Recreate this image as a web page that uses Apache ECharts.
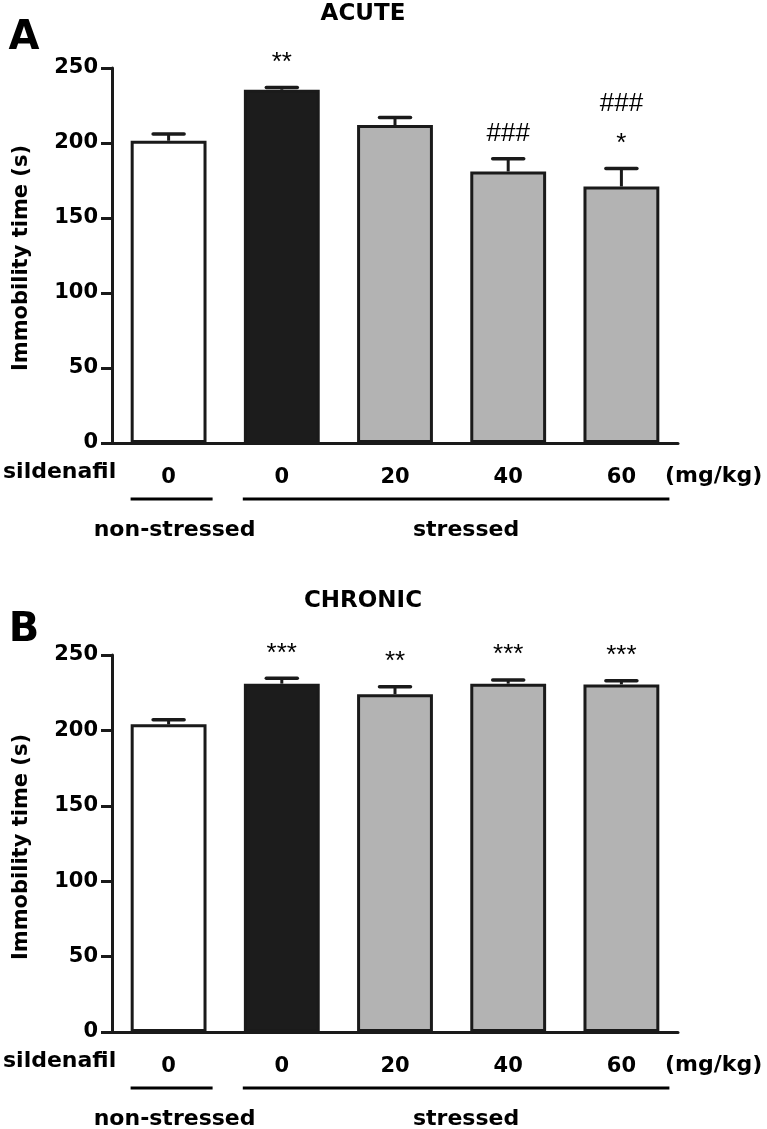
<!DOCTYPE html>
<html>
<head>
<meta charset="utf-8">
<script src="https://cdn.jsdelivr.net/npm/echarts@6/dist/echarts.min.js"></script>
<style>
  html, body { margin: 0; padding: 0; background: #fff; }
  #chart { width: 767px; height: 1129px; }
</style>
</head>
<body>
<div id="chart"></div>
<script>
// ---------------- data ----------------
const categories = ['0', '0', '20', '40', '60'];
const yTicks = [0, 50, 100, 150, 200, 250];

const acuteMean = [201.5, 235.5, 212, 181, 171];
const acuteSem = [4.5, 1.5, 5, 8.5, 12];
const acuteMarks = [[], ['**'], [], ['###'], ['*', '###']];     // listed bottom to top

const chronicMean = [204, 231, 224, 231, 230.5];
const chronicSem = [3, 3.5, 5, 2.5, 2.5];
const chronicMarks = [[], ['***'], ['**'], ['***'], ['***']];

const panelTitles = ['ACUTE', 'CHRONIC'];
const panelLetters = ['A', 'B'];
const groupNames = ['non-stressed', 'stressed'];
const doseLabel = 'sildenafil';
const doseUnit = '(mg/kg)';
const yAxisTitle = 'Immobility time (s)';

// ---------------- style ----------------
const INK = '#1a1a1a';
const barFills = ['#ffffff', '#1c1c1c', '#b3b3b3', '#b3b3b3', '#b3b3b3'];
const BOLD = 'DejaVu Sans';
const MARKFONT = 'Liberation Sans';

const chart = echarts.init(document.getElementById('chart'), null, { renderer: 'canvas' });

const grids = [
  { left: 112, top: 68, width: 566, height: 375 },
  { left: 112, top: 655, width: 566, height: 377 }
];

function xAxisFor(gi) {
  return {
    type: 'category', gridIndex: gi, data: categories,
    axisLine: { lineStyle: { color: INK, width: 3 } },
    axisTick: { alignWithLabel: true, length: 12, lineStyle: { color: INK, width: 3 } },
    axisLabel: { color: '#000', fontFamily: BOLD, fontWeight: 'bold', fontSize: 21, margin: 24 },
    splitLine: { show: false }
  };
}
function yAxisFor(gi) {
  return {
    type: 'value', gridIndex: gi, min: yTicks[0], max: yTicks[yTicks.length - 1], interval: 50,
    axisLine: { show: true, lineStyle: { color: INK, width: 3 } },
    axisTick: { show: true, length: 11, lineStyle: { color: INK, width: 3 } },
    axisLabel: { color: '#000', fontFamily: BOLD, fontWeight: 'bold', fontSize: 21, margin: 14 },
    splitLine: { show: false }
  };
}

function barSeries(gi, means) {
  return {
    type: 'bar', xAxisIndex: gi, yAxisIndex: gi, barWidth: '67%',
    data: means.map((v, i) => ({
      value: v,
      itemStyle: { color: barFills[i], borderColor: INK, borderWidth: 3 }
    })),
    z: 2, animation: false
  };
}

function errSeries(gi, means, sems, marks) {
  return {
    type: 'custom', xAxisIndex: gi, yAxisIndex: gi, z: 3, animation: false,
    data: means.map((m, i) => [i, m, sems[i]]),
    renderItem: function (params, api) {
      const i = api.value(0), m = api.value(1), e = api.value(2);
      const p0 = api.coord([i, m]);
      const p1 = api.coord([i, m + e]);
      const half = 15.5;
      const children = [
        { type: 'line', shape: { x1: p0[0], y1: p0[1], x2: p1[0], y2: p1[1] },
          style: { stroke: INK, lineWidth: 3 } },
        { type: 'line', shape: { x1: p1[0] - half, y1: p1[1], x2: p1[0] + half, y2: p1[1] },
          style: { stroke: INK, lineWidth: 3.5, lineCap: 'round' } }
      ];
      (marks[params.dataIndex] || []).forEach((t, k) => {
        children.push({
          type: 'text',
          style: {
            text: t, x: p1[0], y: p1[1] - 25 - k * 40,
            align: 'center', verticalAlign: 'middle',
            fontFamily: MARKFONT, fontSize: 26, fill: '#000'
          }
        });
      });
      return { type: 'group', children: children };
    }
  };
}

const PANEL_DY = 589;

function staticGraphics() {
  const g = [];
  for (let p = 0; p < 2; p++) {
    const dy = p * PANEL_DY;
    g.push({ type: 'text', x: 363, y: 14 + dy - (p ? 1.5 : 0),
      style: { text: panelTitles[p], align: 'center', verticalAlign: 'middle',
        fontFamily: BOLD, fontWeight: 'bold', fontSize: 23, fill: '#000' } });
    g.push({ type: 'text', x: 24, y: 39 + dy + (p ? 3 : 0),
      style: { text: panelLetters[p], align: 'center', verticalAlign: 'middle',
        fontFamily: BOLD, fontWeight: 'bold', fontSize: 40, fill: '#000' } });
    g.push({ type: 'text', x: 22, y: 258 + dy, rotation: Math.PI / 2,
      style: { text: yAxisTitle, align: 'center', verticalAlign: 'middle',
        fontFamily: BOLD, fontWeight: 'bold', fontSize: 21, fill: '#000' } });
    g.push({ type: 'text', x: 3, y: 472 + dy,
      style: { text: doseLabel, align: 'left', verticalAlign: 'middle',
        fontFamily: BOLD, fontWeight: 'bold', fontSize: 22, fill: '#000' } });
    g.push({ type: 'text', x: 665, y: 476 + dy,
      style: { text: doseUnit, align: 'left', verticalAlign: 'middle',
        fontFamily: BOLD, fontWeight: 'bold', fontSize: 22, fill: '#000' } });
  }
  return g;
}

const option = {
  backgroundColor: '#ffffff',
  animation: false,
  grid: grids,
  xAxis: [xAxisFor(0), xAxisFor(1)],
  yAxis: [yAxisFor(0), yAxisFor(1)],
  series: [
    barSeries(0, acuteMean), errSeries(0, acuteMean, acuteSem, acuteMarks),
    barSeries(1, chronicMean), errSeries(1, chronicMean, chronicSem, chronicMarks)
  ],
  graphic: staticGraphics()
};
chart.setOption(option);

// group brackets under the dose labels, positioned from the category axis
const extra = [];
for (let p = 0; p < 2; p++) {
  const c0 = chart.convertToPixel({ xAxisIndex: p }, 0);
  const c1 = chart.convertToPixel({ xAxisIndex: p }, 1);
  const c4 = chart.convertToPixel({ xAxisIndex: p }, categories.length - 1);
  const yBase = chart.convertToPixel({ yAxisIndex: p }, 0);
  const yLine = yBase + 56;
  const yText = yBase + 87;
  const segs = [[c0 - 38, c0 + 44], [c1 - 39, c4 + 48]];
  segs.forEach((s, k) => {
    extra.push({ type: 'line', shape: { x1: s[0], y1: yLine, x2: s[1], y2: yLine },
      style: { stroke: '#000', lineWidth: 3 } });
    extra.push({ type: 'text', x: (s[0] + s[1]) / 2 + (k ? 10 : 3), y: yText,
      style: { text: groupNames[k], align: 'center', verticalAlign: 'middle',
        fontFamily: BOLD, fontWeight: 'bold', fontSize: 22, fill: '#000' } });
  });
}
chart.setOption({ graphic: staticGraphics().concat(extra) }, { replaceMerge: ['graphic'] });
</script>
</body>
</html>
